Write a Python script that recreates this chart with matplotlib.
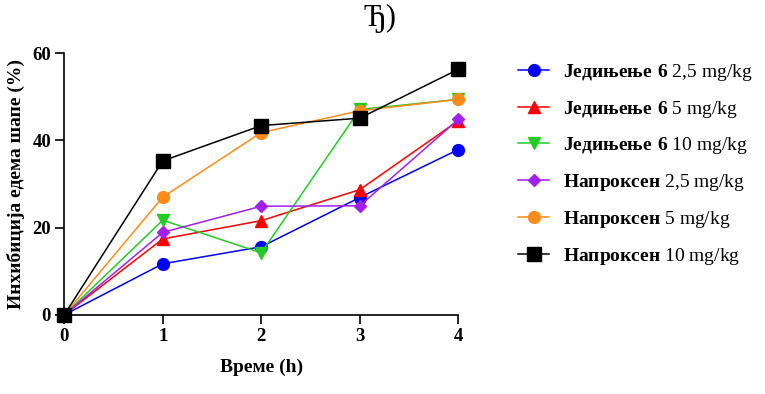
import matplotlib
matplotlib.use("Agg")
import matplotlib.pyplot as plt

plt.rcParams["font.family"] = ["Liberation Serif", "DejaVu Serif"]
plt.rcParams["mathtext.fontset"] = "custom"
plt.rcParams["mathtext.rm"] = "Liberation Serif"
plt.rcParams["mathtext.bf"] = "Liberation Serif:bold"

hours = [0, 1, 2, 3, 4]
x_ticks = [0, 1, 2, 3, 4]
y_ticks = [0, 20, 40, 60]

comp6_2_5 = [0, 11.7, 15.6, 26.9, 37.9]
comp6_5 = [0, 17.4, 21.6, 28.7, 44.5]
comp6_10 = [0, 21.7, 14.2, 47.1, 49.4]
napr_2_5 = [0, 18.9, 24.9, 25.0, 44.8]
napr_5 = [0, 27.0, 41.8, 46.8, 49.4]
napr_10 = [0, 35.3, 43.4, 45.1, 56.3]

series = [
    (comp6_2_5, "#0000ff", "o", 8.5, r"$\mathbf{Једињење\ 6}$ 2,5 mg/kg"),
    (comp6_5, "#ff0000", "^", 8.5, r"$\mathbf{Једињење\ 6}$ 5 mg/kg"),
    (comp6_10, "#22cc22", "v", 8.5, r"$\mathbf{Једињење\ 6}$ 10 mg/kg"),
    (napr_2_5, "#a020f0", "D", 6, r"$\mathbf{Напроксен}$ 2,5 mg/kg"),
    (napr_5, "#ff8c1a", "o", 8.5, r"$\mathbf{Напроксен}$ 5 mg/kg"),
    (napr_10, "#000000", "s", 9.5, r"$\mathbf{Напроксен}$ 10 mg/kg"),
]

fig = plt.figure(figsize=(7.65, 3.94), dpi=100)
ax = fig.add_axes([0.084, 0.201, 0.515, 0.664])

for vals, col, mk, ms, lab in series:
    ax.plot(hours, vals, color=col, marker=mk, markersize=ms, linewidth=1.1,
            label=lab, clip_on=False, zorder=3)

ax.set_xlim(0, 4)
ax.set_ylim(0, 60)
ax.set_xticks(x_ticks)
ax.set_yticks(y_ticks)
for s in ["top", "right"]:
    ax.spines[s].set_visible(False)
for s in ["left", "bottom"]:
    ax.spines[s].set_linewidth(1.2)
ax.tick_params(direction="out", length=6.5, width=1.2, labelsize=13.5, pad=3)
for t in ax.get_xticklabels() + ax.get_yticklabels():
    t.set_fontweight("bold")

ax.set_xlabel("Време (h)", fontsize=14, fontweight="bold", labelpad=10)
ax.set_ylabel("Инхибиција едема шапе (%)", fontsize=14, fontweight="bold", labelpad=5)

fig.text(0.497, 0.952, "Ђ)", fontsize=22, ha="center", va="center")

ax.legend(loc="upper left", bbox_to_anchor=(1.108, 1.034), frameon=False,
          fontsize=14, labelspacing=0.81, handlelength=1.6, handletextpad=0.7)

fig.savefig("out.png", dpi=100)
